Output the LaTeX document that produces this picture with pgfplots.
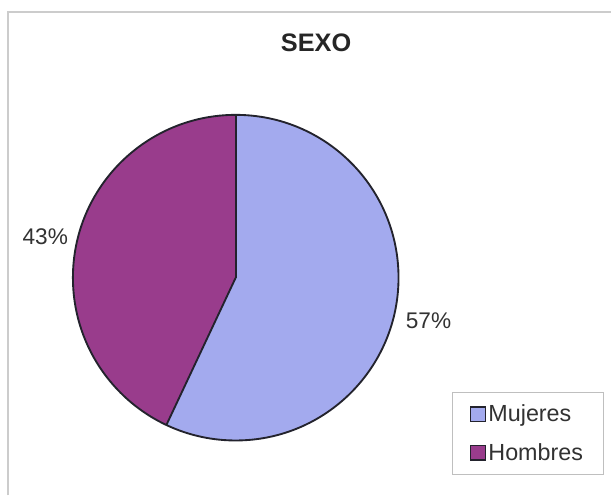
\documentclass[border=0pt]{standalone}
\usepackage{pgfplots}
\usepackage{pgfplotstable}
\pgfplotsset{compat=1.18}
\usepackage{fontspec}
\setmainfont{Liberation Sans}
\definecolor{mujeres}{RGB}{163,170,238}
\definecolor{hombres}{RGB}{153,60,140}
\definecolor{outl}{RGB}{35,35,45}
\definecolor{txt}{RGB}{50,50,50}
\pgfplotstableread{
label value
Mujeres 57
Hombres 43
}\piedata
\pgfplotstablegetelem{0}{value}\of\piedata
\let\valM\pgfplotsretval
\pgfplotstablegetelem{1}{value}\of\piedata
\let\valH\pgfplotsretval
\pgfmathsetmacro{\angM}{360/(\valM+\valH)*\valM}
\pgfmathsetmacro{\angH}{360/(\valM+\valH)*\valH}
\begin{document}
\begin{tikzpicture}
\begin{axis}[
  scale only axis, width=459pt, height=372pt,
  xmin=0, xmax=612, ymin=0, ymax=496,
  hide axis, clip=false,
  legend style={at={(axis cs:528.5,62)}, anchor=center,
    draw=black!25, line width=0.6pt, fill=white,
    font=\fontsize{17.5}{20}\selectfont, text=txt,
    inner xsep=13.5pt, inner ysep=7pt, row sep=11pt,
    nodes={inner sep=2pt}},
  legend cell align=left,
  legend image code/.code={\draw[#1, line width=0.8pt] (0pt,-5.3pt) rectangle (11pt,5.3pt);},
]
\path (axis cs:0,0) rectangle (axis cs:612,496);
\draw[black!20, line width=1.1pt] (axis cs:8,0) -- (axis cs:8,484) -- (axis cs:612,484);
\node[font=\bfseries\fontsize{19}{22}\selectfont, text=black!85] at (axis cs:316.5,453.5) {SEXO};
% Mujeres slice (clockwise from 12 o'clock)
\fill[mujeres] (axis cs:236,218) -- ++(90:122.25pt) arc[start angle=90, delta angle=-\angM, radius=122.25pt] -- cycle;
% Hombres slice
\fill[hombres] (axis cs:236,218) -- ++(90:122.25pt) arc[start angle=90, delta angle=\angH, radius=122.25pt] -- cycle;
\draw[outl, line width=1.4pt] (axis cs:236,218) circle[radius=122.25pt];
\draw[outl, line width=1.4pt] (axis cs:236,218) -- ++(90:122.25pt);
\draw[outl, line width=1.4pt] (axis cs:236,218) -- ++({90-\angM}:122.25pt);
\node[font=\fontsize{17}{20}\selectfont, text=txt] at (axis cs:45.3,259.5) {\valH\%};
\node[font=\fontsize{17}{20}\selectfont, text=txt] at (axis cs:429,174.5) {\valM\%};
\addlegendimage{fill=mujeres, draw=outl}
\addlegendentry{Mujeres}
\addlegendimage{fill=hombres, draw=outl}
\addlegendentry{Hombres}
\end{axis}
\end{tikzpicture}
\end{document}
